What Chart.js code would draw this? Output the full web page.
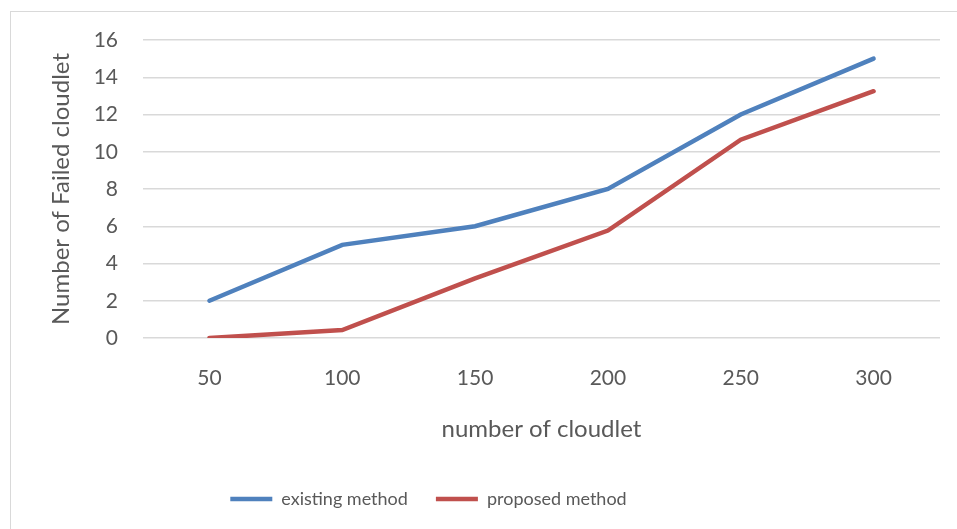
<!DOCTYPE html>
<html>
<head>
<meta charset="utf-8">
<script src="https://cdn.jsdelivr.net/npm/chart.js@4"></script>
<style>
  body { margin: 0; background: #fff; }
  #frame { position: absolute; left: 10px; top: 11px; width: 1000px; height: 600px; border: 1px solid #d9d9d9; }
  #chart { position: absolute; left: 0; top: 0; }
</style>
</head>
<body>
<div id="frame"></div>
<canvas id="chart" width="957" height="529"></canvas>
<script>
const categories = ['50', '100', '150', '200', '250', '300'];
const existingMethod = [2, 5, 6, 8, 12, 15];
const proposedMethod = [0, 0.43, 3.2, 5.77, 10.65, 13.25];
const yTicks = [0, 2, 4, 6, 8, 10, 12, 14, 16];

const fontFamily = 'Lato, "Open Sans", sans-serif';
const textColor = '#595959';

// the legend in the original sits left of centre
const shiftLegend = {
  id: 'shiftLegend',
  afterLayout(chart) {
    chart.legend.left -= 65;
    chart.legend.right -= 65;
  }
};

const ctx = document.getElementById('chart').getContext('2d');
const chart = new Chart(ctx, {
  type: 'line',
  data: {
    labels: categories,
    datasets: [{
      label: 'existing method',
      data: existingMethod,
      borderColor: '#4F81BD',
      backgroundColor: '#4F81BD',
      borderWidth: 4.5,
      borderCapStyle: 'round',
      pointRadius: 0,
      tension: 0
    }, {
      label: 'proposed method',
      data: proposedMethod,
      borderColor: '#C0504D',
      backgroundColor: '#C0504D',
      borderWidth: 4.5,
      borderCapStyle: 'round',
      pointRadius: 0,
      tension: 0
    }]
  },
  options: {
    responsive: false,
    animation: false,
    layout: { padding: { left: 47, right: 17, top: 40, bottom: 11 } },
    plugins: {
      tooltip: { enabled: false },
      legend: {
        position: 'bottom',
        labels: {
          usePointStyle: true,
          pointStyle: 'line',
          pointStyleWidth: 42,
          color: textColor,
          font: { family: fontFamily, size: 18 },
          padding: 28
        }
      }
    },
    scales: {
      x: {
        offset: true,
        grid: { display: false },
        border: { display: false },
        ticks: { color: textColor, font: { family: fontFamily, size: 21 }, padding: 20 },
        title: {
          display: true,
          text: 'number of cloudlet',
          color: textColor,
          font: { family: fontFamily, size: 24 },
          padding: { top: 4, bottom: 18 }
        }
      },
      y: {
        min: 0,
        max: 16,
        afterBuildTicks: axis => { axis.ticks = yTicks.map(v => ({ value: v })); },
        afterFit: axis => { axis.width = 96; },
        grid: { color: '#d9d9d9', lineWidth: 1.5, drawTicks: false },
        border: { display: false },
        ticks: { color: textColor, font: { family: fontFamily, size: 21 }, padding: 25 },
        title: {
          display: true,
          text: 'Number of Failed cloudlet',
          color: textColor,
          font: { family: fontFamily, size: 24 },
          padding: 0
        }
      }
    }
  },
  plugins: [shiftLegend]
});
</script>
</body>
</html>
